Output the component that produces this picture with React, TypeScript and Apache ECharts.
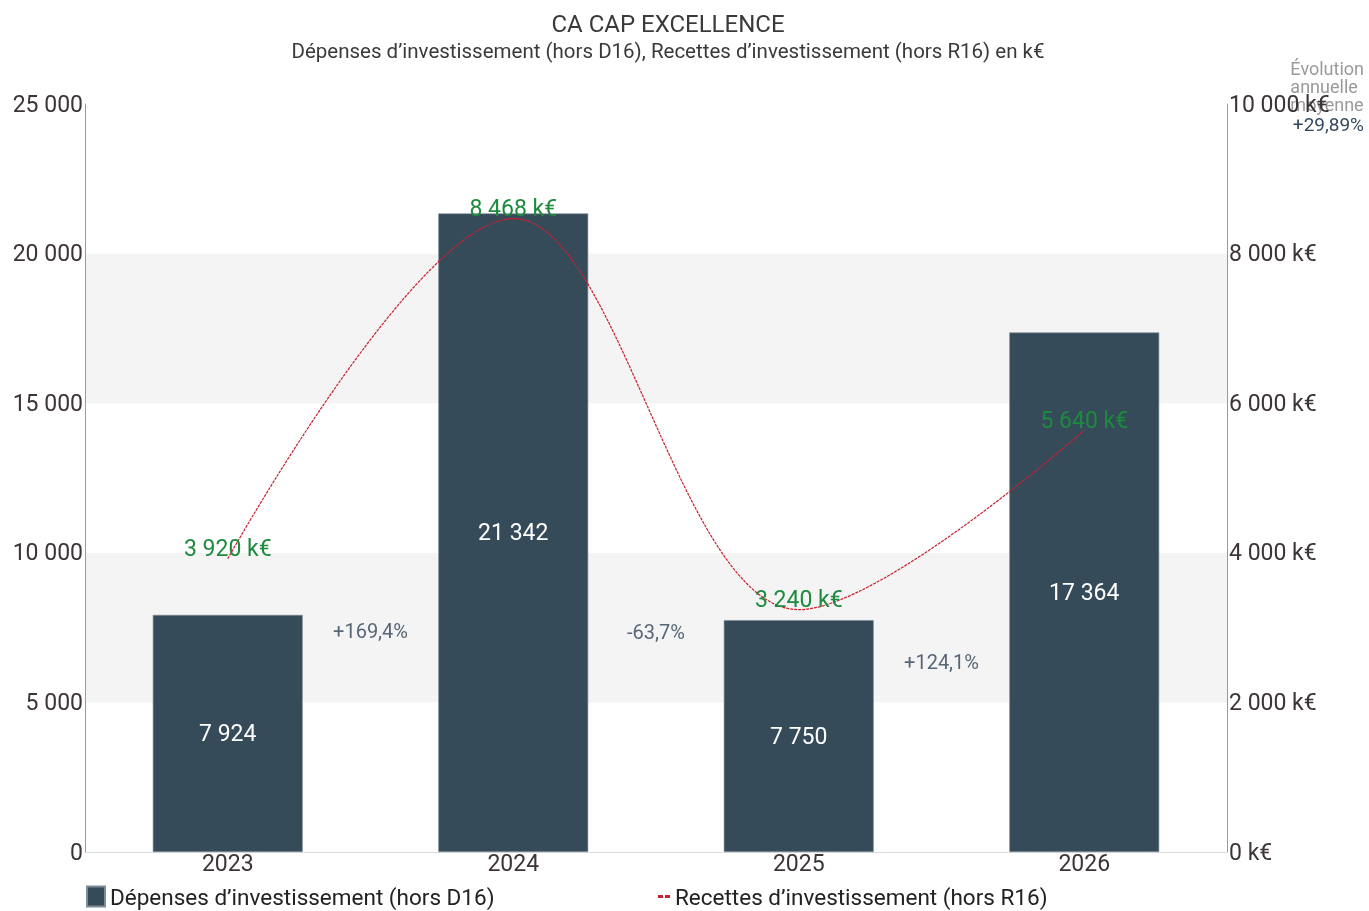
import React, { useEffect, useRef } from "react";
import * as echarts from "echarts";

const categories = ["2023", "2024", "2025", "2026"];
const depenses = [7924, 21342, 7750, 17364];
const recettes = [3920, 8468, 3240, 5640];
const evolutionLabels = ["+169,4%", "-63,7%", "+124,1%"];
const evolutionAnchors = [7390, 7350, 6350];
const leftTicks = [0, 5000, 10000, 15000, 20000, 25000];
const rightTicks = [0, 2000, 4000, 6000, 8000, 10000];
const averageEvolution = "+29,89%";

const FONT = "Roboto";
const fmt = (v: number) => String(Math.round(v)).replace(/\B(?=(\d{3})+(?!\d))/g, " ");

export default function App() {
  const ref = useRef<HTMLDivElement>(null);
  useEffect(() => {
    if (!ref.current) return;
    const chart = echarts.init(ref.current, undefined, { renderer: "svg" });
    const serieBar = "Dépenses d’investissement (hors D16)";
    const serieLine = "Recettes d’investissement (hors R16)";
    chart.setOption({
      animation: false,
      textStyle: { fontFamily: FONT },
      title: [
        {
          text: "CA CAP EXCELLENCE",
          left: 663,
          textAlign: "center",
          top: 7,
          textStyle: { fontFamily: FONT, fontSize: 24, fontWeight: "normal", color: "#3a3a3a" },
        },
        {
          text: "Dépenses d’investissement (hors D16), Recettes d’investissement (hors R16) en k€",
          left: 663,
          textAlign: "center",
          top: 35,
          textStyle: { fontFamily: FONT, fontSize: 20.5, fontWeight: "normal", color: "#3a3a3a" },
        },
      ],
      legend: [
        {
          left: 86,
          top: 885,
          padding: 0,
          data: [{ name: serieBar, icon: "rect" }],
          itemWidth: 18,
          itemHeight: 20,
          itemGap: 4,
          itemTextGap: 4,
          textStyle: { fontFamily: FONT, fontSize: 22.5, color: "#222" },
        },
        {
          left: 658,
          top: 885,
          padding: 0,
          data: [{ name: serieLine, icon: "path://M0,0h5v3h-5z M7,0h5v3h-5z" }],
          itemWidth: 12,
          itemHeight: 3,
          itemTextGap: 9,
          itemStyle: { color: "#c8202f" },
          textStyle: { fontFamily: FONT, fontSize: 22.5, color: "#222" },
        },
      ],
      grid: { left: 85, right: 142, top: 104, bottom: 59, containLabel: false },
      xAxis: [
        {
          type: "category",
          data: categories,
          axisLine: { show: true, onZero: false, lineStyle: { color: "#dcdcdc" } },
          axisTick: { show: false },
          axisLabel: { fontFamily: FONT, fontSize: 23, color: "#3d3535", margin: 0 },
        },
        {
          type: "value",
          min: -0.5,
          max: 3.5,
          show: false,
        },
      ],
      yAxis: [
        {
          type: "value",
          min: 0,
          max: 25000,
          interval: 5000,
          position: "left",
          axisLine: { show: true, onZero: false, lineStyle: { color: "#9a9a9a" } },
          axisTick: { show: false },
          splitLine: { show: false },
          splitArea: { show: true, areaStyle: { color: ["#ffffff", "#f4f4f4"] } },
          axisLabel: {
            fontFamily: FONT,
            fontSize: 23,
            color: "#3d3535",
            margin: 2,
            formatter: (v: number) => (leftTicks.includes(v) ? fmt(v) : ""),
          },
        },
        {
          type: "value",
          min: 0,
          max: 10000,
          interval: 2000,
          position: "right",
          axisLine: { show: true, onZero: false, lineStyle: { color: "#9a9a9a" } },
          axisTick: { show: false },
          splitLine: { show: false },
          axisLabel: {
            fontFamily: FONT,
            fontSize: 23,
            color: "#3d3535",
            margin: 2,
            formatter: (v: number) => (rightTicks.includes(v) ? fmt(v) + " k€" : ""),
          },
        },
      ],
      series: [
        {
          name: serieBar,
          type: "bar",
          data: depenses,
          barWidth: "52.5%",
          itemStyle: { color: "#364b5a", borderColor: "#7d8c97", borderWidth: 0.6 },
          label: {
            show: true,
            position: "inside",
            fontFamily: FONT,
            fontSize: 23,
            color: "#ffffff",
            formatter: (p: any) => fmt(p.value),
          },
        },
        {
          name: serieLine,
          type: "line",
          yAxisIndex: 1,
          data: recettes,
          smooth: 0.35,
          symbol: "circle",
          symbolSize: 1,
          showSymbol: true,
          lineStyle: { color: "#c8202f", width: 1.2, type: [3, 1] },
          itemStyle: { color: "rgba(200,32,47,0)" },
          label: {
            show: true,
            position: "top",
            distance: -2,
            fontFamily: FONT,
            fontSize: 23,
            color: "#1e8a3e",
            formatter: (p: any) => fmt(p.value) + " k€",
          },
          z: 5,
        },
        {
          name: "evolution",
          type: "scatter",
          xAxisIndex: 1,
          yAxisIndex: 0,
          symbolSize: 0,
          data: evolutionLabels.map((l, i) => ({ value: [i + 0.5, evolutionAnchors[i]], label: l })),
          label: {
            show: true,
            position: "inside",
            fontFamily: FONT,
            fontSize: 20,
            color: "#2f4257",
            formatter: (p: any) => p.data.label,
          },
          silent: true,
        },
      ],
      graphic: [
        {
          type: "text",
          right: 5,
          top: 59,
          style: {
            text: "Évolution\nannuelle\nmoyenne",
            fontFamily: FONT,
            fontSize: 18,
            lineHeight: 18,
            fill: "#9a9a9a",
            align: "right",
          },
        },
        {
          type: "text",
          right: 5,
          top: 115,
          style: {
            text: averageEvolution,
            fontFamily: FONT,
            fontSize: 19,
            fill: "#34495e",
            align: "right",
          },
        },
      ],
    });
    return () => chart.dispose();
  }, []);
  return (
    <div
      ref={ref}
      style={{ position: "fixed", left: 0, top: 0, width: 1369, height: 911 }}
    />
  );
}
